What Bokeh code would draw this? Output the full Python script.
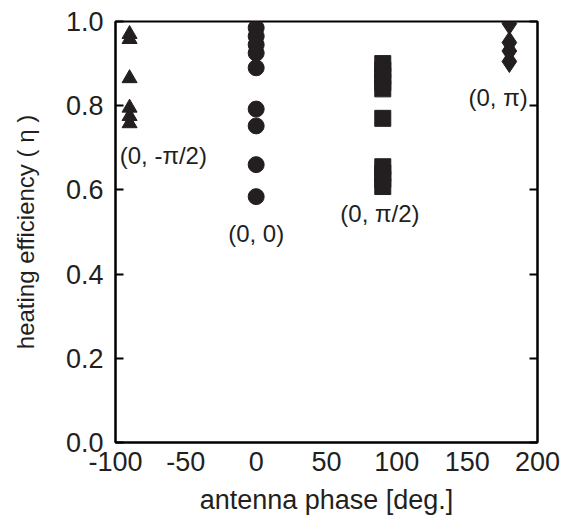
from bokeh.plotting import figure
from bokeh.models import LinearAxis, FixedTicker, Range1d, PrintfTickFormatter, ColumnDataSource
from bokeh.embed import file_html
from bokeh.resources import INLINE
from bokeh.core.properties import value

# ---- data ----
phase_m90 = [-90, -90, -90, -90, -90, -90]
eff_m90 = [0.970, 0.958, 0.865, 0.795, 0.775, 0.758]

phase_0 = [0, 0, 0, 0, 0, 0, 0, 0, 0]
eff_0 = [0.985, 0.965, 0.945, 0.925, 0.890, 0.792, 0.752, 0.660, 0.584]

phase_90 = [90, 90, 90, 90, 90, 90, 90, 90, 90, 90]
eff_90 = [0.900, 0.885, 0.870, 0.855, 0.840, 0.770, 0.655, 0.640, 0.625, 0.608]

phase_180 = [180, 180, 180, 180]
eff_180 = [0.995, 0.950, 0.930, 0.905]

group_labels = ["(0, -\u03c0/2)", "(0, 0)", "(0, \u03c0/2)", "(0, \u03c0)"]
label_x = [-66, 0, 88, 172]
label_y = [0.682, 0.496, 0.544, 0.820]

x_ticks = [-100, -50, 0, 50, 100, 150, 200]
x_tick_labels = ["-100", "-50", "0", "50", "100", "150", "200"]
y_ticks = [0.0, 0.2, 0.4, 0.6, 0.8, 1.0]

FONT = "Liberation Sans"

p = figure(
    output_backend="svg", toolbar_location=None,
    frame_width=422, frame_height=421,
    min_border_left=115, min_border_top=21, min_border_right=34, min_border_bottom=73,
    x_range=Range1d(-100, 200), y_range=Range1d(0, 1.0),
    background_fill_color="white", border_fill_color="white",
)
p.xgrid.visible = False
p.ygrid.visible = False
p.outline_line_color = "black"
p.outline_line_width = 2

ink = "#231f20"

p.scatter(phase_m90, eff_m90, marker="triangle", size=15, fill_color=ink, line_color=ink)
p.scatter(phase_0, eff_0, marker="circle", size=16, fill_color=ink, line_color=ink)
p.scatter(phase_90, eff_90, marker="square", size=16, fill_color=ink, line_color=ink)
p.scatter(phase_180, eff_180, marker="diamond", size=22, fill_color=ink, line_color=ink)

src = ColumnDataSource(dict(x=label_x, y=label_y, t=group_labels))
p.text(x="x", y="y", text="t", source=src, text_align="center", text_baseline="middle",
       text_font=value(FONT), text_font_size="24px", text_color=ink)

xa = p.xaxis[0]
xa.ticker = FixedTicker(ticks=x_ticks)
xa.major_label_overrides = dict(zip(x_ticks, x_tick_labels))
xa.major_tick_in = 0
xa.major_tick_out = 0
xa.minor_tick_in = 0
xa.minor_tick_out = 0
xa.axis_line_width = 2
xa.axis_line_color = "black"
xa.major_label_text_font = FONT
xa.major_label_text_font_size = "27px"
xa.major_label_text_color = ink
xa.major_label_standoff = 9
xa.axis_label = "antenna phase [deg.]"
xa.axis_label_text_font = FONT
xa.axis_label_text_font_size = "27px"
xa.axis_label_text_font_style = "normal"
xa.axis_label_text_color = ink
xa.axis_label_standoff = 11

ya = p.yaxis[0]
ya.ticker = FixedTicker(ticks=y_ticks)
ya.formatter = PrintfTickFormatter(format="%.1f")
ya.major_tick_in = 8
ya.major_tick_out = 0
ya.minor_tick_in = 0
ya.minor_tick_out = 0
ya.major_tick_line_width = 2
ya.axis_line_width = 2
ya.axis_line_color = "black"
ya.major_label_text_font = FONT
ya.major_label_text_font_size = "27px"
ya.major_label_text_color = ink
ya.major_label_standoff = 12
ya.axis_label = "heating efficiency ( \u03b7 )"
ya.axis_label_text_font = FONT
ya.axis_label_text_font_size = "24px"
ya.axis_label_text_font_style = "normal"
ya.axis_label_text_color = ink
ya.axis_label_standoff = 24

ra = LinearAxis(ticker=FixedTicker(ticks=y_ticks),
                major_label_overrides={t: "" for t in y_ticks})
ra.major_tick_in = 8
ra.major_tick_out = 0
ra.minor_tick_in = 0
ra.minor_tick_out = 0
ra.major_tick_line_width = 2
ra.axis_line_width = 2
ra.major_label_standoff = 0
p.add_layout(ra, "right")

open("out.html", "w").write(file_html(p, INLINE))
